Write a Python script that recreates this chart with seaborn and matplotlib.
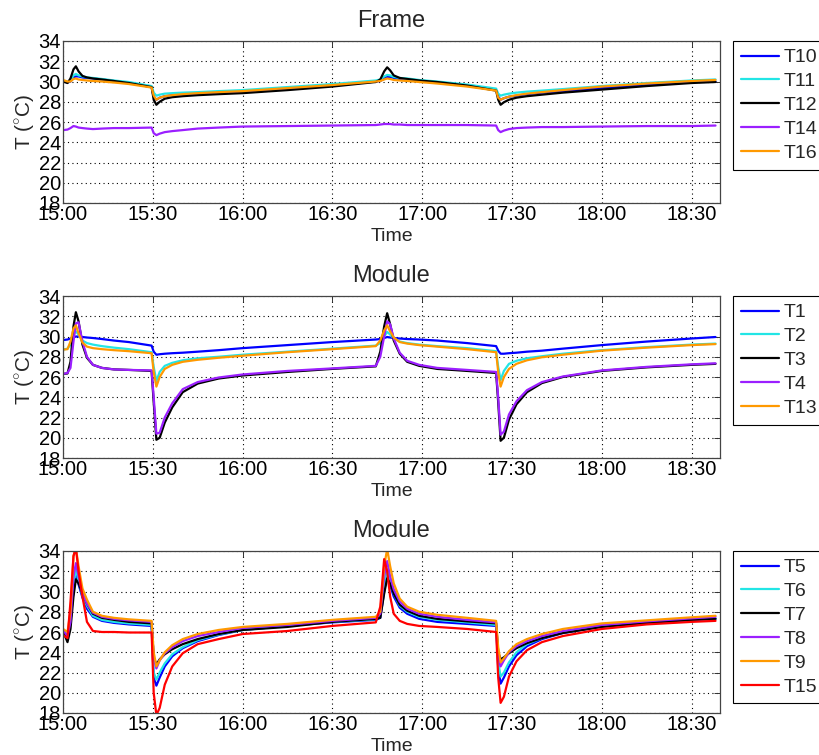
import matplotlib
matplotlib.use("Agg")
import matplotlib.pyplot as plt
import matplotlib.dates as mdates
import numpy as np
import pandas as pd
import seaborn as sns

# Sample times in minutes after 15:00
minutes = [0, 1.5, 2.5, 3.5, 4.3, 5.2, 6.5, 8, 10, 13,
           17, 22, 29.6, 30.3, 31.2, 32.3, 34, 36.5, 40, 45,
           52, 60, 75, 90, 104.5, 106, 107.3, 108.3, 109.3, 110.5,
           112.5, 115, 119, 125, 135, 144.7, 145.4, 146.2, 147.3, 149,
           151.5, 155, 160, 167, 180, 195, 210, 218]

# Frame sensors
T10 = [30.05, 29.9, 30.0, 30.4, 30.5, 30.5, 30.4, 30.35, 30.3, 30.2,
       30.05, 29.85, 29.45, 28.5, 28.2, 28.4, 28.55, 28.65, 28.7, 28.8,
       28.9, 29.0, 29.3, 29.6, 30.0, 30.05, 30.3, 30.45, 30.45, 30.35,
       30.25, 30.2, 30.05, 29.9, 29.6, 29.15, 28.5, 28.2, 28.35, 28.5,
       28.6, 28.75, 28.9, 29.05, 29.35, 29.65, 29.95, 30.0]
T11 = [30.1, 29.95, 30.1, 30.6, 30.75, 30.6, 30.5, 30.4, 30.35, 30.25,
       30.1, 29.95, 29.55, 28.9, 28.6, 28.7, 28.8, 28.85, 28.9, 28.95,
       29.05, 29.15, 29.45, 29.75, 30.1, 30.2, 30.5, 30.65, 30.6, 30.45,
       30.35, 30.3, 30.15, 30.0, 29.7, 29.3, 28.8, 28.6, 28.7, 28.8,
       28.9, 29.0, 29.1, 29.25, 29.55, 29.85, 30.1, 30.2]
T12 = [30.0, 29.85, 30.3, 31.2, 31.5, 31.0, 30.55, 30.4, 30.3, 30.2,
       30.05, 29.85, 29.45, 28.2, 27.7, 28.0, 28.3, 28.45, 28.55, 28.65,
       28.75, 28.85, 29.15, 29.5, 29.95, 30.2, 31.0, 31.4, 31.1, 30.6,
       30.35, 30.25, 30.1, 29.95, 29.6, 29.1, 28.2, 27.7, 27.95, 28.2,
       28.4, 28.55, 28.7, 28.9, 29.2, 29.55, 29.85, 29.95]
T14 = [25.2, 25.25, 25.4, 25.6, 25.55, 25.45, 25.4, 25.35, 25.3, 25.35,
       25.4, 25.4, 25.45, 24.9, 24.7, 24.85, 25.0, 25.1, 25.2, 25.35,
       25.45, 25.55, 25.6, 25.65, 25.7, 25.75, 25.8, 25.8, 25.8, 25.75,
       25.75, 25.7, 25.7, 25.7, 25.7, 25.65, 25.2, 25.0, 25.15, 25.3,
       25.4, 25.45, 25.5, 25.5, 25.55, 25.6, 25.6, 25.65]
T16 = [30.15, 30.0, 30.0, 30.25, 30.3, 30.2, 30.15, 30.1, 30.05, 30.0,
       29.9, 29.75, 29.4, 28.6, 28.2, 28.4, 28.55, 28.65, 28.75, 28.85,
       28.95, 29.05, 29.35, 29.65, 30.0, 30.05, 30.2, 30.3, 30.25, 30.15,
       30.1, 30.05, 29.95, 29.8, 29.5, 29.1, 28.4, 28.2, 28.35, 28.5,
       28.65, 28.8, 28.95, 29.15, 29.5, 29.8, 30.05, 30.15]

# Module sensors (first group)
T1 = [29.65, 29.7, 29.8, 29.9, 30.0, 30.0, 29.95, 29.9, 29.85, 29.75,
      29.6, 29.45, 29.1, 28.5, 28.2, 28.25, 28.3, 28.35, 28.4, 28.5,
      28.65, 28.85, 29.15, 29.45, 29.7, 29.75, 29.85, 29.95, 29.9, 29.85,
      29.8, 29.75, 29.7, 29.6, 29.35, 29.05, 28.6, 28.3, 28.3, 28.35,
      28.4, 28.5, 28.6, 28.8, 29.15, 29.5, 29.8, 29.95]
T2 = [28.7, 28.8, 29.2, 30.2, 30.5, 30.2, 29.6, 29.35, 29.2, 29.05,
      28.9, 28.75, 28.45, 27.0, 25.6, 26.5, 27.1, 27.4, 27.65, 27.85,
      28.0, 28.2, 28.5, 28.8, 29.1, 29.35, 30.0, 30.45, 30.2, 29.8,
      29.5, 29.35, 29.2, 29.05, 28.85, 28.55, 27.0, 25.7, 26.6, 27.3,
      27.6, 27.85, 28.05, 28.3, 28.65, 28.95, 29.2, 29.3]
T3 = [26.3, 26.35, 27.5, 31.0, 32.4, 31.5, 29.2, 27.9, 27.2, 26.9,
      26.75, 26.7, 26.6, 23.5, 19.8, 20.0, 21.5, 23.0, 24.5, 25.35,
      25.85, 26.15, 26.5, 26.8, 27.05, 28.5, 31.0, 32.3, 31.2, 29.6,
      28.3, 27.5, 27.1, 26.8, 26.6, 26.4, 23.5, 19.7, 20.0, 21.8,
      23.3, 24.5, 25.4, 26.0, 26.6, 26.95, 27.2, 27.3]
T4 = [26.3, 26.4, 26.9, 29.5, 31.3, 31.4, 29.5, 28.0, 27.2, 26.9,
      26.75, 26.7, 26.65, 24.0, 20.4, 20.5, 22.0, 23.4, 24.8, 25.5,
      25.95, 26.25, 26.6, 26.85, 27.1, 28.0, 30.0, 31.5, 31.2, 29.8,
      28.4, 27.6, 27.2, 26.9, 26.7, 26.5, 24.0, 20.3, 20.6, 22.3,
      23.6, 24.7, 25.5, 26.05, 26.65, 27.0, 27.25, 27.35]
T13 = [28.7, 28.75, 29.5, 30.8, 31.1, 30.3, 29.4, 29.0, 28.85, 28.75,
       28.65, 28.55, 28.35, 26.5, 25.05, 26.0, 26.8, 27.2, 27.5, 27.7,
       27.9, 28.1, 28.45, 28.75, 29.05, 29.6, 30.6, 31.1, 30.5, 29.9,
       29.45, 29.3, 29.15, 29.0, 28.75, 28.45, 26.5, 25.05, 26.0, 26.8,
       27.3, 27.65, 27.95, 28.2, 28.6, 28.9, 29.15, 29.25]

# Module sensors (second group)
T5 = [26.2, 25.5, 27.0, 30.0, 31.8, 30.7, 29.4, 28.3, 27.5, 27.1,
      26.9, 26.75, 26.6, 21.5, 20.7, 21.5, 22.6, 23.6, 24.4, 25.1,
      25.7, 26.2, 26.6, 26.95, 27.2, 27.4, 30.0, 31.8, 30.6, 29.5,
      28.4, 27.8, 27.3, 27.0, 26.8, 26.6, 22.5, 20.9, 21.5, 22.6,
      23.7, 24.6, 25.3, 25.9, 26.55, 26.9, 27.2, 27.3]
T6 = [26.2, 25.7, 27.0, 30.5, 32.3, 31.0, 29.6, 28.6, 27.6, 27.2,
      27.0, 26.85, 26.7, 22.0, 21.3, 22.0, 22.9, 23.8, 24.5, 25.2,
      25.75, 26.2, 26.6, 27.0, 27.25, 27.6, 30.5, 32.2, 31.0, 29.8,
      28.6, 28.0, 27.5, 27.2, 26.95, 26.7, 23.0, 21.6, 22.0, 23.0,
      24.0, 24.8, 25.4, 26.0, 26.6, 26.95, 27.25, 27.35]
T7 = [26.1, 25.0, 26.3, 29.5, 31.2, 30.8, 29.8, 28.8, 27.8, 27.4,
      27.2, 27.0, 26.85, 23.5, 22.8, 23.3, 23.8, 24.3, 24.8, 25.3,
      25.8, 26.2, 26.5, 27.0, 27.3, 27.4, 29.8, 31.3, 30.8, 29.8,
      28.7, 28.1, 27.6, 27.3, 27.05, 26.85, 24.0, 23.3, 23.5, 23.9,
      24.4, 24.9, 25.4, 25.9, 26.5, 26.9, 27.2, 27.3]
T8 = [26.2, 25.6, 27.0, 31.5, 32.8, 31.5, 29.8, 28.8, 27.9, 27.5,
      27.3, 27.15, 27.0, 23.5, 22.4, 23.2, 23.9, 24.5, 25.1, 25.6,
      26.0, 26.4, 26.7, 27.1, 27.4, 27.8, 31.5, 33.0, 31.5, 30.2,
      29.0, 28.3, 27.8, 27.5, 27.2, 26.95, 23.5, 22.6, 23.2, 24.0,
      24.6, 25.1, 25.6, 26.1, 26.7, 27.05, 27.35, 27.5]
T9 = [26.3, 26.0, 28.0, 33.5, 34.3, 32.5, 30.3, 29.2, 28.0, 27.6,
      27.4, 27.25, 27.1, 24.0, 22.6, 23.2, 24.0, 24.7, 25.3, 25.8,
      26.2, 26.5, 26.8, 27.2, 27.5, 28.0, 32.5, 34.2, 32.5, 30.8,
      29.3, 28.5, 28.0, 27.7, 27.4, 27.1, 24.5, 23.0, 23.4, 24.1,
      24.8, 25.3, 25.8, 26.3, 26.85, 27.15, 27.45, 27.6]
T15 = [25.7, 25.4, 29.0, 33.5, 34.3, 32.0, 29.5, 27.0, 26.1, 26.0,
       26.0, 25.95, 25.95, 20.0, 17.8, 18.5, 20.8, 22.6, 23.9, 24.8,
       25.3, 25.8, 26.1, 26.6, 26.95, 28.5, 33.2, 32.0, 29.5, 27.8,
       27.1, 26.8, 26.6, 26.5, 26.3, 26.0, 21.5, 19.0, 19.6, 21.6,
       23.1, 24.2, 25.0, 25.6, 26.3, 26.75, 27.0, 27.1]

series = {"T1": T1, "T2": T2, "T3": T3, "T4": T4, "T5": T5, "T6": T6,
          "T7": T7, "T8": T8, "T9": T9, "T10": T10, "T11": T11, "T12": T12,
          "T13": T13, "T14": T14, "T15": T15, "T16": T16}

BLUE, CYAN, BLACK, PURPLE, ORANGE, RED = (
    "#0000FF", "#22E5E5", "#000000", "#9B1FFF", "#FF9900", "#FF0000")

panels = [
    ("Frame", ["T10", "T11", "T12", "T14", "T16"], [BLUE, CYAN, BLACK, PURPLE, ORANGE]),
    ("Module", ["T1", "T2", "T3", "T4", "T13"], [BLUE, CYAN, BLACK, PURPLE, ORANGE]),
    ("Module", ["T5", "T6", "T7", "T8", "T9", "T15"], [BLUE, CYAN, BLACK, PURPLE, ORANGE, RED]),
]

sns.set_theme(style="white")
plt.rcParams["font.family"] = ["Liberation Sans", "DejaVu Sans"]
plt.rcParams["mathtext.fontset"] = "custom"
plt.rcParams["mathtext.rm"] = "Liberation Sans"

start = pd.Timestamp("2000-01-01 15:00")
times = start + pd.to_timedelta(minutes, unit="min")

fig = plt.figure(figsize=(8.19, 7.55), dpi=100)
W, H = 819.0, 755.0
left_px, right_px = 63, 720
tops = [41, 296, 551]
ax_h = 162

for (title, names, cols), top in zip(panels, tops):
    ax = fig.add_axes([left_px / W, 1 - (top + ax_h) / H,
                       (right_px - left_px) / W, ax_h / H])
    df = pd.DataFrame({"Time": times})
    for n in names:
        df[n] = series[n]
    long = df.melt(id_vars="Time", var_name="sensor", value_name="T")
    sns.lineplot(data=long, x="Time", y="T", hue="sensor", hue_order=names,
                 palette=cols, estimator=None, sort=False, linewidth=1.6, ax=ax)

    ax.set_xlim(start, start + pd.Timedelta(minutes=219.5))
    ax.set_ylim(18, 34)
    ax.set_yticks(np.arange(18, 35, 2))
    ax.xaxis.set_major_locator(mdates.MinuteLocator(byminute=[0, 30]))
    ax.xaxis.set_major_formatter(mdates.DateFormatter("%H:%M"))
    ax.tick_params(direction="in", top=True, right=True, length=4, width=0.7,
                   color="#333333", labelsize=14.5, pad=1.5, labelcolor="black")
    ax.grid(True, linestyle=(0, (1, 3)), color="black", linewidth=0.8)
    for sp in ax.spines.values():
        sp.set_color("#444444")
        sp.set_linewidth(0.9)
    ax.set_title(title, fontsize=17, pad=10)
    ax.set_xlabel("Time", fontsize=14, labelpad=2.5)
    ax.set_ylabel(r"T ($^{\circ}$C)", fontsize=15, labelpad=1)

    handles, labels = ax.get_legend_handles_labels()
    leg = ax.legend(handles, labels, loc="upper left",
                    bbox_to_anchor=((733 - left_px) / (right_px - left_px), 1.0),
                    borderaxespad=0, fontsize=14, frameon=True, fancybox=False,
                    framealpha=1, edgecolor="black", handlelength=1.95,
                    handletextpad=0.25, labelspacing=0.32, borderpad=0.4)
    leg.get_frame().set_linewidth(0.8)
    for line in leg.get_lines():
        line.set_linewidth(1.6)

fig.savefig("out.png", dpi=100)
